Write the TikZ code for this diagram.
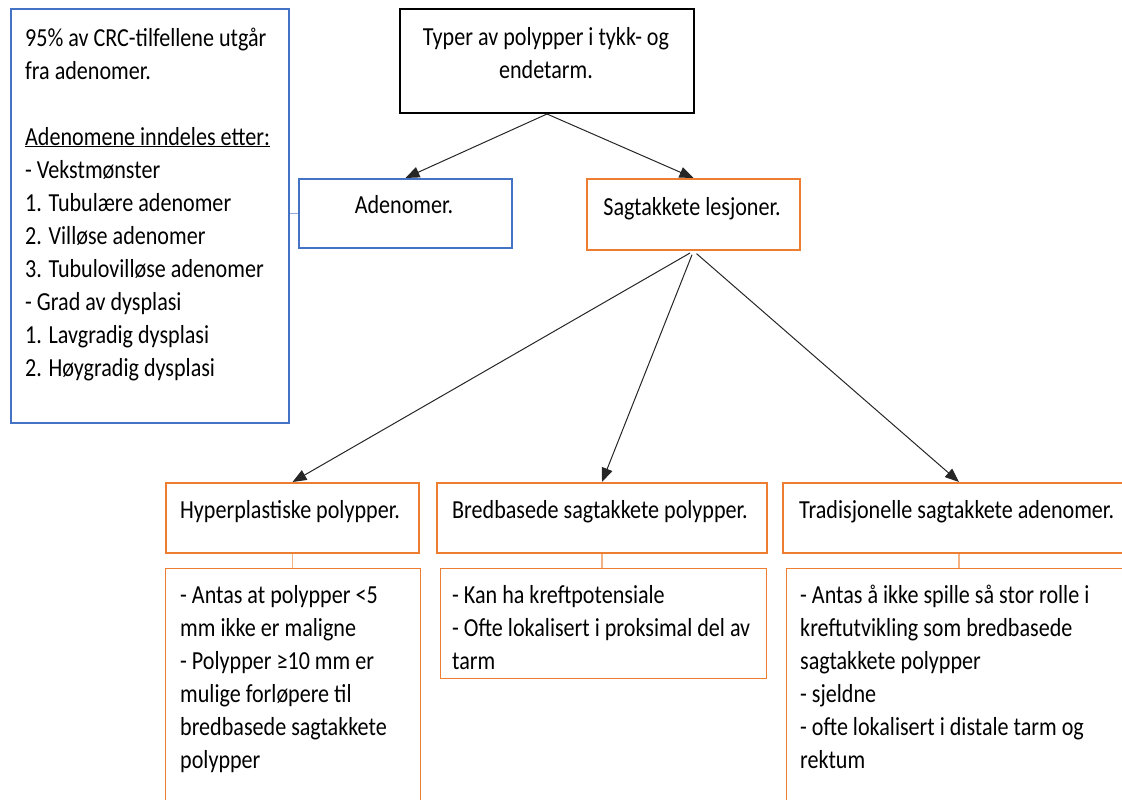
\documentclass[tikz,border=0pt]{standalone}
\usepackage{xcolor}
\usepackage{fontspec}
\setmainfont{Carlito}[FakeStretch=0.85]
\usepackage{tikz}
\usetikzlibrary{arrows.meta}

\definecolor{wblue}{RGB}{68,114,196}
\definecolor{worange}{RGB}{237,125,49}
\definecolor{lblue}{RGB}{143,170,220}
\definecolor{lorange}{RGB}{244,177,131}

\begin{document}
\begin{tikzpicture}[x=1pt,y=-1pt,
  box/.style={draw,line width=2pt,inner sep=0pt,anchor=north west},
  bbox/.style={box,draw=wblue},
  obox/.style={box,draw=worange},
  tbox/.style={box,draw=worange,line width=1.3pt},
  arr/.style={draw=black!85,line width=1pt,-{Triangle[length=14pt,width=11pt]}},
  link/.style={line width=1.3pt},
  txt/.style={inner sep=0pt,align=left,anchor=base west},
  font=\fontsize{26}{33}\selectfont]
\useasboundingbox (0,0) rectangle (1122,800);
\clip (0,0) rectangle (1122,800);
%Boxes
\node[bbox,minimum width=278pt,minimum height=414pt] (info) at (10,8) {};
\node[box,minimum width=294pt,minimum height=104pt] (typer) at (399,8) {};
\node[bbox,minimum width=213pt,minimum height=69pt] (aden) at (298,178) {};
\node[obox,minimum width=213pt,minimum height=71pt] (sagt) at (586,178) {};
\node[obox,minimum width=253pt,minimum height=70pt] (hyp) at (165,482) {};
\node[obox,minimum width=330pt,minimum height=70pt] (bred) at (436,482) {};
\node[obox,minimum width=352pt,minimum height=70pt] (trad) at (782,482) {};
\node[tbox,minimum width=255pt,minimum height=260pt] (hyptxt) at (165,568) {};
\node[tbox,minimum width=326pt,minimum height=110pt] (bredtxt) at (440,568) {};
\node[tbox,minimum width=360pt,minimum height=260pt] (tradtxt) at (786,568) {};
%Connectors
\draw[link,lblue] (info.east |- aden.west) -- (aden.west);
\draw[arr] (typer.south) -- (aden.north);
\draw[arr] (typer.south) -- (sagt.north);
\draw[arr,shorten <=4pt] (sagt.south) -- (hyp.north);
\draw[arr,shorten <=4pt] (sagt.south) -- (bred.north);
\draw[arr,shorten <=4pt] (sagt.south) -- (trad.north);
\draw[link,lorange] (hyp.south) -- (hyp.south |- hyptxt.north);
\draw[link,lorange] (bred.south) -- (bred.south |- bredtxt.north);
\draw[link,lorange] (trad.south) -- (trad.south |- tradtxt.north);
%Text (multi-line nodes sit on their last baseline)
\node[txt] (infotext) at (25,376) {95\% av CRC-tilfellene utgår\\fra adenomer.\\[33pt]
  \underline{Adenomene inndeles etter:}\\- Vekstmønster\\1. Tubulære adenomer\\
  2. Villøse adenomer\\3. Tubulovilløse adenomer\\- Grad av dysplasi\\
  1. Lavgradig dysplasi\\2. Høygradig dysplasi};
\node[inner sep=0pt,align=center,anchor=base] (typertext) at (546,78) {Typer av polypper i tykk- og\\endetarm.};
\node[inner sep=0pt,anchor=base] (adentext) at (404,213) {Adenomer.};
\node[inner sep=0pt,anchor=base] (sagttext) at (692,215) {Sagtakkete lesjoner.};
\node[txt] (hyphead) at (180,518) {Hyperplastiske polypper.};
\node[txt] (bredhead) at (452,518) {Bredbasede sagtakkete polypper.};
\node[txt] (tradhead) at (799,518) {Tradisjonelle sagtakkete adenomer.};
\node[txt] (hypbody) at (180,768) {- Antas at polypper <5\\mm ikke er maligne\\- Polypper ≥10 mm er\\
  mulige forløpere til\\bredbasede sagtakkete\\polypper};
\node[txt] (bredbody) at (452,669) {- Kan ha kreftpotensiale\\- Ofte lokalisert i proksimal del av\\tarm};
\node[txt] (tradbody) at (800,768) {- Antas å ikke spille så stor rolle i\\kreftutvikling som bredbasede\\
  sagtakkete polypper\\- sjeldne\\- ofte lokalisert i distale tarm og\\rektum};
\end{tikzpicture}
\end{document}
